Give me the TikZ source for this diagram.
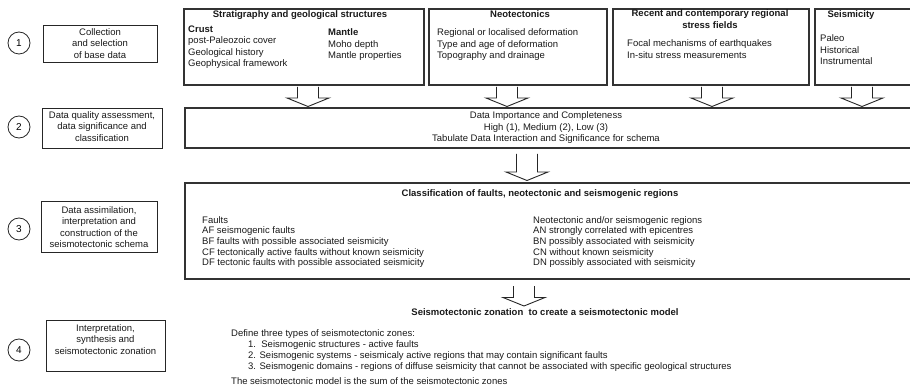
\documentclass[tikz,border=0pt]{standalone}
\usepackage{fontspec}
\setmainfont{Liberation Sans}
\begin{document}
\begin{tikzpicture}[x=1pt,y=-1pt,
  txt/.style={inner sep=0pt, text=black!90, font=\fontsize{9.5}{11.5}\selectfont},
  ttl/.style={txt, font=\fontsize{9.5}{12}\selectfont\bfseries},
  bigline/.style={draw=black!80, line width=1.3pt},
  lbox/.style={draw=black!85, line width=0.9pt},
  stepnum/.style={draw=black!85, line width=0.8pt, circle, minimum size=22pt, inner sep=0pt, font=\fontsize{10}{12}\selectfont},
  arrowline/.style={draw=black!85, line width=0.9pt, line join=miter},
  pics/barrow/.style={code={\draw[arrowline] (-10.5,0) -- (-10.5,#1) -- (-21,#1) -- (0,#1+8.5) -- (21,#1) -- (10.5,#1) -- (10.5,0);}}
]
\useasboundingbox (0,0) rectangle (910,390);

% ---- step circles
\node[stepnum] (c1) at (19,43) {1};
\node[stepnum] (c2) at (19,127) {2};
\node[stepnum] (c3) at (19,229) {3};
\node[stepnum] (c4) at (19,350) {4};

% ---- left description boxes
\draw[lbox] (43,25) rectangle (157,62);
\node[txt, align=center, anchor=north] (d1) at (100,28) {Collection\\and selection\\of base data};
\draw[lbox] (42,108) rectangle (162,148);
\node[txt, align=center, anchor=north] (d2) at (102,111) {Data quality assessment,\\data significance and\\classification};
\draw[lbox] (41,201) rectangle (157,252);
\node[txt, align=center, anchor=north] (d3) at (99,206) {Data assimilation,\\interpretation and\\construction of the\\seismotectonic schema};
\draw[lbox] (46,320) rectangle (165,371);
\node[txt, align=center, anchor=north] (d4) at (105.5,324) {Interpretation,\\synthesis and\\seismotectonic zonation};

% ---- top data boxes
\draw[bigline] (184,9) rectangle (424,85);
\draw[bigline] (429,9) rectangle (607,85);
\draw[bigline] (613,9) rectangle (809,85);
\draw[bigline] (910,9) -| (815,85) -- (910,85);

\node[ttl, anchor=north] (t1) at (300,10.5) {Stratigraphy and geological structures};
\node[txt, align=left, anchor=north west] (t1a) at (188,25.5) {\textbf{Crust}\\post-Paleozoic cover\\Geological history\\Geophysical framework};
\node[txt, align=left, anchor=north west] (t1b) at (328,28.5) {\textbf{Mantle}\\Moho depth\\Mantle properties};

\node[ttl, anchor=north] (t2) at (520,10.5) {Neotectonics};
\node[txt, align=left, anchor=north west] (t2a) at (437,28.5) {Regional or localised deformation\\Type and age of deformation\\Topography and drainage};

\node[ttl, align=center, anchor=north] (t3) at (710,9.5) {Recent and contemporary regional\\stress fields};
\node[txt, align=left, anchor=north west] (t3a) at (627,39.5) {Focal mechanisms of earthquakes\\In-situ stress measurements};

\node[ttl, anchor=north] (t4) at (851,10.5) {Seismicity};
\node[txt, align=left, anchor=north west] (t4a) at (820,34.5) {Paleo\\Historical\\Instrumental};

% ---- arrows into box 2
\pic at (308,87) {barrow=11};
\pic at (507,87) {barrow=11};
\pic at (712,87) {barrow=11};
\pic at (862,87) {barrow=11};

% ---- box 2
\draw[bigline] (910,108) -| (185,148) -- (910,148);
\node[txt, align=center, anchor=north] (b2) at (546,111.5) {Data Importance and Completeness\\High (1), Medium (2), Low (3)\\Tabulate Data Interaction and Significance for schema};

\pic at (527,154) {barrow=18};

% ---- box 3
\draw[bigline] (910,183) -| (185,279) -- (910,279);
\node[ttl, anchor=north] (b3t) at (540,189) {Classification of faults, neotectonic and seismogenic regions};
\node[txt, align=left, anchor=north west, font=\fontsize{9.5}{10.7}\selectfont] (b3l) at (202,216) {Faults\\AF seismogenic faults\\BF faults with possible associated seismicity\\CF tectonically active faults without known seismicity\\DF tectonic faults with possible associated seismicity};
\node[txt, align=left, anchor=north west, font=\fontsize{9.5}{10.7}\selectfont] (b3r) at (533,216) {Neotectonic and/or seismogenic regions\\AN strongly correlated with epicentres\\BN possibly associated with seismicity\\CN without known seismicity\\DN possibly associated with seismicity};

\pic at (524,286) {barrow=11.5};

% ---- zonation
\node[ttl, anchor=north] (z0) at (545,308) {Seismotectonic zonation\ \ to create a seismotectonic model};
\node[txt, anchor=north west] (z1) at (231,329) {Define three types of seismotectonic zones:};
\node[txt, align=left, anchor=north west, font=\fontsize{9.5}{11}\selectfont] (z2) at (248,340) {1.\ \ Seismogenic structures - active faults\\2. Seismogenic systems - seismicaly active regions that may contain significant faults\\3. Seismogenic domains - regions of diffuse seismicity that cannot be associated with specific geological structures};
\node[txt, anchor=north west] (z3) at (231,377) {The seismotectonic model is the sum of the seismotectonic zones};
\end{tikzpicture}
\end{document}
